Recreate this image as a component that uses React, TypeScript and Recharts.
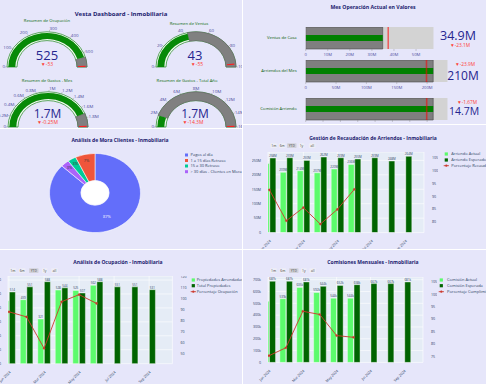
import React from 'react';
import {
  PieChart, Pie, Cell, RadialBarChart, RadialBar, PolarAngleAxis, PolarRadiusAxis,
  BarChart, Bar, XAxis, YAxis, ReferenceLine, ComposedChart, Line, CartesianGrid, LabelList,
} from 'recharts';

// ---------------- DATA ----------------
const gaugeTitles = ['Resumen de Ocupación', 'Resumen de Ventas', 'Resumen de Gastos - Mes', 'Resumen de Gastos - Total Año'];
const gaugeValues = [525, 43, 1720000, 1700000];
const gaugeRefs = [578, 98, 1970000, 16000000];
const gaugeMax = [578, 100, 1970000, 16000000];
const gaugeTicks = [
  [0, 100, 200, 300, 400, 500],
  [0, 20, 40, 60, 80, 100],
  [0, 200000, 400000, 600000, 800000, 1000000, 1200000, 1400000, 1600000, 1800000],
  [0, 2000000, 4000000, 6000000, 8000000, 10000000, 12000000, 14000000, 16000000],
];
const gaugeValueLabels = ['525', '43', '1.7M', '1.7M'];
const gaugeDeltaLabels = ['▼-53', '▼-55', '▼-0.25M', '▼-14.3M'];

const bulletLabels = ['Ventas de Casa', 'Arriendos del Mes', 'Comisión Arriendo'];
const bulletValues = [34.9e6, 210e6, 14.7e6];
const bulletRefs = [58.0e6, 233.9e6, 16.37e6];
const bulletThresholds = [37.4e6, 199e6, 13.95e6];
const bulletTicks = [
  [0, 10e6, 20e6, 30e6, 40e6, 50e6],
  [0, 50e6, 100e6, 150e6, 200e6],
  [0, 2e6, 4e6, 6e6, 8e6, 10e6, 12e6, 14e6],
];
const bulletValueLabels = ['34.9M', '210M', '14.7M'];
const bulletDeltaLabels = ['▼-23.1M', '▼-23.9M', '▼-1.67M'];

const moraLabels = ['Pagos al día', '1 a 15 días Retraso', '15 a 30 Retraso', '> 30 días - Clientes en Mora'];
const moraValues = [87, 7, 3, 3];

const months = ['Jan 2024', 'Feb 2024', 'Mar 2024', 'Apr 2024', 'May 2024', 'Jun 2024', 'Jul 2024', 'Aug 2024', 'Sep 2024'];
const monthTicks = [1, 3, 5, 7, 9];

const recActual = [239, 208.5, 214, 207, 220, 236, 0, 0, 0];
const recExpected = [258, 259, 250, 261.5, 259, 254.6, 259, 247.7, 264];
const recPct = [92.5, 80.5, 85.6, 79.2, 84.9, 92.7, null, null, null];
const recLeftTicks = [0, 50, 100, 150, 200, 250];
const recRightTicks = [80, 85, 90, 95, 100, 105];
const recLegend = ['Arriendo Actual', 'Arriendo Esperado', 'Porcentaje Recaudación'];

const ocuArr = [452, 459, 321, 528, 525, 562, 0, 0, 0];
const ocuTot = [514, 551, 588, 544, 507, 588, 551, 551, 531];
const ocuPct = [87.9, 83.3, 54.6, 97.1, 103.6, 95.6, null, null, null];
const ocuLeftTicks = [0, 100, 200, 300, 400, 500, 600];
const ocuRightTicks = [50, 60, 70, 80, 90, 100, 110, 120];
const ocuLegend = ['Propiedades Arrendadas', 'Total Propiedades', 'Porcentaje Ocupación'];

const comActual = [517, 539, 635, 592, 544, 544, 0, 0, 0];
const comExpected = [687, 687, 681, 644, 652, 658, 667, 667, 681];
const comPct = [75.3, 78.5, 93.2, 91.9, 83.4, 82.7, null, null, null];
const comLeftTicks = [0, 100, 200, 300, 400, 500, 600, 700];
const comRightTicks = [75, 80, 85, 90, 95, 100, 105];
const comLegend = ['Comisión Actual', 'Comisión Esperada', 'Porcentaje Cumplimiento'];

const rangeButtons = ['1m', '6m', 'YTD', '1y', 'all'];

// ---------------- STYLE ----------------
const FONT = '"Open Sans", "Liberation Sans", Arial, sans-serif';
const BG = '#e6e6fa';
const TITLE = '#1b1b6e';
const NUM = '#25258f';
const DELTA = '#ff4136';
const LIGHT = '#5cfb6c';
const DARK = '#006400';
const RED = '#cc3a2e';
const AXT = '#2a3f5f';
const moraColors = ['#636efa', '#ef553b', '#00cc96', '#ab63fa'];

const fmtM = (v: number) => (v === 0 ? '0' : `${+(v / 1e6).toFixed(1)}M`);
const Z = { top: 0, right: 0, bottom: 0, left: 0 };

function Panel({ x, y, w, h, children }: any) {
  return (
    <div style={{ position: 'absolute', left: x, top: y, width: w, height: h, overflow: 'hidden', background: BG }}>
      <div style={{ position: 'absolute', left: -x, top: -y, width: 486, height: 384 }}>{children}</div>
    </div>
  );
}

function Overlay({ children }: any) {
  return (
    <svg width={486} height={384} style={{ position: 'absolute', left: 0, top: 0, fontFamily: FONT }}>
      {children}
    </svg>
  );
}

// ---------------- GAUGE ----------------
const gaugeCenters = [[47, 67], [196, 67], [47.5, 126.5], [196, 126.5]];
function Gauge({ idx }: { idx: number }) {
  const value = gaugeValues[idx];
  const max = gaugeMax[idx];
  const refVal = gaugeRefs[idx];
  const [cx, cy] = gaugeCenters[idx];
  const W = 130, H = 66, ox = 65, oy = 58;
  const thrW = max * 0.012;
  const fmt = idx < 2 ? (v: number) => String(v) : fmtM;
  return (
    <div style={{ position: 'absolute', left: cx - ox, top: cy - oy, width: W, height: H, transform: 'scaleY(0.88)', transformOrigin: `${ox}px ${oy}px` }}>
      <div style={{ position: 'absolute', left: 0, top: 0 }}>
        <PieChart width={W} height={H} margin={Z}>
          <Pie data={[{ v: max }]} dataKey="v" cx={ox} cy={oy} innerRadius={30} outerRadius={40} startAngle={180} endAngle={0}
            fill="#f1f8f1" stroke="#2f8f2f" strokeWidth={0.8} isAnimationActive={false} />
          <Pie data={[{ v: value }, { v: max - value }]} dataKey="v" cx={ox} cy={oy} innerRadius={30} outerRadius={40}
            startAngle={180} endAngle={0} isAnimationActive={false}>
            <Cell fill="none" stroke="none" />
            <Cell fill="#808080" stroke="#555" strokeWidth={0.5} />
          </Pie>
          <Pie data={[{ v: refVal - thrW }, { v: thrW }, { v: max - refVal }]} dataKey="v" cx={ox} cy={oy} innerRadius={31}
            outerRadius={38.5} startAngle={180} endAngle={0} isAnimationActive={false}>
            <Cell fill="none" stroke="none" />
            <Cell fill="#ff2020" stroke="none" />
            <Cell fill="none" stroke="none" />
          </Pie>
        </PieChart>
      </div>
      <div style={{ position: 'absolute', left: 0, top: 0 }}>
        <RadialBarChart width={W} height={H} margin={Z} cx={ox} cy={oy} innerRadius={30} outerRadius={40}
          startAngle={180} endAngle={0} data={[{ v: value }]} barCategoryGap="17%">
          <PolarAngleAxis type="number" domain={[0, max]} ticks={gaugeTicks[idx]} tickFormatter={fmt}
            tick={{ fontSize: 4.5, fill: '#4a4a9c', fontFamily: FONT }} axisLine={false}
            tickLine={{ stroke: '#777', strokeWidth: 0.4 }} tickSize={2} />
          <PolarRadiusAxis type="category" tick={false} axisLine={false} />
          <RadialBar dataKey="v" fill="#078a07" isAnimationActive={false} />
        </RadialBarChart>
      </div>
    </div>
  );
}

// ---------------- BULLET ----------------
const bulletTops = [27, 60, 97.7];
const bulletRights = [433.7, 447.7, 447.7];
function BulletTick(tp: any) {
  return (
    <text x={tp.x} y={tp.y} dy={1.5} textAnchor="end" fontSize={4.2} fill="#0b5e0b" fontFamily={FONT}>
      {tp.payload.value}
    </text>
  );
}
function Bullet({ i }: { i: number }) {
  const left = 243;
  const w = bulletRights[i] - left;
  const data = [{ name: bulletLabels[i], target: bulletRefs[i], val: bulletValues[i] }];
  return (
    <div style={{ position: 'absolute', left, top: bulletTops[i] }}>
      <BarChart layout="vertical" width={w} height={34} data={data} margin={Z} barCategoryGap={0} barGap={0}>
        <XAxis type="number" domain={[0, bulletRefs[i]]} allowDataOverflow ticks={bulletTicks[i]} tickFormatter={fmtM}
          height={12} axisLine={false} tickLine={{ stroke: '#888', strokeWidth: 0.4 }} tickSize={2} interval={0}
          tick={{ fontSize: 4.2, fill: '#4f4fa0', fontFamily: FONT }} />
        <YAxis yAxisId="a" type="category" dataKey="name" width={62.7} axisLine={false} tickLine={false} tickMargin={3}
          tick={BulletTick} />
        <YAxis yAxisId="b" type="category" dataKey="name" hide />
        <YAxis yAxisId="c" type="category" dataKey="name" hide />
        <Bar yAxisId="a" dataKey="target" fill="#d3d3d3" isAnimationActive={false} />
        <Bar yAxisId="b" dataKey="val" fill="#7f7f7f" stroke="#4a4a4a" strokeWidth={0.6} isAnimationActive={false} />
        <Bar yAxisId="c" dataKey="val" fill="#008000" barSize={6} isAnimationActive={false} />
        <ReferenceLine yAxisId="a" x={bulletThresholds[i]} stroke="#ff0000" strokeOpacity={0.55} strokeWidth={1.6} />
      </BarChart>
    </div>
  );
}

// ---------------- DONUT ----------------
const pieOrder = [0, 3, 2, 1];
const DONUT = { cx: 95, cy: 192.7, inner: 14, outer: 45.5, sy: 0.87 };
function Donut() {
  const data = pieOrder.map((k) => ({ name: moraLabels[k], value: moraValues[k] }));
  const colors = pieOrder.map((k) => moraColors[k]);
  const RAD = Math.PI / 180;
  const label = (p: any) => {
    const f = p.percent > 0.5 ? 0.5 : 0.78;
    const r = DONUT.inner + (DONUT.outer - DONUT.inner) * f;
    const x = p.cx + r * Math.cos(-p.midAngle * RAD);
    const y = p.cy + r * Math.sin(-p.midAngle * RAD);
    return (
      <text x={x} y={y} textAnchor="middle" dominantBaseline="central" fontSize={4} fontFamily={FONT}
        fill={p.percent > 0.5 ? '#ffffff' : '#3a3a3a'}>{`${Math.round(p.percent * 100)}%`}</text>
    );
  };
  return (
    <div style={{ position: 'absolute', left: DONUT.cx - 50, top: DONUT.cy - 50, width: 100, height: 100, transform: `scaleY(${DONUT.sy})`, transformOrigin: '50px 50px' }}>
      <PieChart width={100} height={100} margin={Z}>
        <Pie data={data} dataKey="value" nameKey="name" cx={50} cy={50} innerRadius={DONUT.inner} outerRadius={DONUT.outer}
          startAngle={90} endAngle={-270} stroke="#ffffff" strokeWidth={0.6} label={label} labelLine={false}
          isAnimationActive={false}>
          {data.map((d, k) => <Cell key={d.name} fill={colors[k]} />)}
        </Pie>
      </PieChart>
    </div>
  );
}

// ---------------- COMBO ----------------
function Combo(p: any) {
  const data = months.map((m, i) => ({ i: i + 1, a: p.actual[i], e: p.expected[i], pc: p.pct[i] }));
  const W = p.lw + p.plotW + p.rw;
  const H = p.plotH + 22;
  const mk = (skipFirst: boolean) => (lp: any) => {
    const vb = lp.viewBox || lp;
    if (skipFirst && lp.index === 0) return null;
    if (vb == null || vb.x == null) return null;
    return (
      <text x={vb.x + vb.width / 2} y={vb.y - 1} textAnchor="middle" fontSize={3} fontFamily={FONT} fill={AXT}>
        {p.labelFmt(lp.value)}
      </text>
    );
  };
  const tick = { fontSize: 3.6, fill: AXT, fontFamily: FONT };
  return (
    <div style={{ position: 'absolute', left: p.left, top: p.top }}>
      <ComposedChart width={W} height={H} data={data} margin={Z} barCategoryGap="14%" barGap={0.6}>
        <CartesianGrid yAxisId="l" fill="#e5ecf6" stroke="#ffffff" strokeWidth={0.6} />
        <XAxis dataKey="i" type="number" domain={p.xDomain} allowDataOverflow ticks={monthTicks} interval={0}
          tickFormatter={(v: number) => months[v - 1]} angle={-45} textAnchor="end" tick={tick}
          tickLine={false} axisLine={false} height={22} tickMargin={1} />
        <YAxis yAxisId="l" domain={p.lDomain} allowDataOverflow ticks={p.lTicks} tickFormatter={p.lFmt} width={p.lw}
          tick={tick} tickLine={false} axisLine={false} tickMargin={1} interval={0} />
        <YAxis yAxisId="r" orientation="right" domain={p.rDomain} allowDataOverflow ticks={p.rTicks} width={p.rw}
          tick={tick} tickLine={false} axisLine={false} tickMargin={2} interval={0} />
        <Bar yAxisId="l" dataKey="a" fill={LIGHT} stroke="#ffffff" strokeWidth={0.4} isAnimationActive={false}>
          <LabelList dataKey="a" content={mk(true)} />
        </Bar>
        <Bar yAxisId="l" dataKey="e" fill={DARK} stroke="#ffffff" strokeWidth={0.4} isAnimationActive={false}>
          <LabelList dataKey="e" content={mk(false)} />
        </Bar>
        <Line yAxisId="r" dataKey="pc" stroke={RED} strokeWidth={0.9} dot={{ r: 1.1, fill: RED, stroke: RED, strokeWidth: 0.3 }}
          isAnimationActive={false} />
      </ComposedChart>
    </div>
  );
}

function RangeSel({ centers, y }: { centers: number[]; y: number }) {
  const widths = [6.5, 6.5, 9.5, 5.5, 6.5];
  return (
    <g>
      {rangeButtons.map((b, k) => (
        <g key={b}>
          <rect x={centers[k] - widths[k] / 2} y={y} width={widths[k]} height={4.6} rx={0.6}
            fill={b === 'YTD' ? '#d2d2da' : '#eeeef6'} />
          <text x={centers[k]} y={y + 3.3} textAnchor="middle" fontSize={3.4} fill="#444">{b}</text>
        </g>
      ))}
    </g>
  );
}

function ComboLegend({ names, mx, tx, rows }: { names: string[]; mx: number; tx: number; rows: number[] }) {
  return (
    <g fontSize={4} fill={AXT}>
      <rect x={mx} y={rows[0] - 1.6} width={3.2} height={3.2} fill={LIGHT} />
      <rect x={mx} y={rows[1] - 1.6} width={3.2} height={3.2} fill={DARK} />
      <line x1={mx - 1} x2={mx + 4.2} y1={rows[2]} y2={rows[2]} stroke={RED} strokeWidth={0.9} />
      <circle cx={mx + 1.6} cy={rows[2]} r={1.1} fill={RED} />
      {names.map((n, k) => (
        <text key={n} x={tx} y={rows[k] + 1.4}>{n}</text>
      ))}
    </g>
  );
}

export default function App() {
  const gaugeTitlePos = [[47, 22], [189, 24.7], [47, 81.5], [187, 81.5]];
  const gaugeNumPos = [[47, 59.5, 13], [195, 59.5, 13], [47.5, 117.5, 12], [195, 117.5, 12]];
  const gaugeDeltaPos = [[47, 66], [197, 66], [47.5, 124.3], [193, 124.3]];
  const bulletNumPos = [[458, 39.5, 12.5], [463, 80, 12], [464, 115, 10.5]];
  const bulletDeltaPos = [[460, 46.5], [465, 65.5], [467, 103.5]];
  const pieRows = [155, 160.5, 166, 171.7];
  return (
    <div style={{ position: 'fixed', left: 0, top: 0, width: 486, height: 384, background: '#ffffff', overflow: 'hidden', fontFamily: FONT }}>
      <Panel x={0} y={0} w={242} h={128}>
        {gaugeValues.map((_, k) => <Gauge key={k} idx={k} />)}
        <Overlay>
          <text x={121} y={15.5} textAnchor="middle" fontSize={6} fontWeight={700} fill={TITLE}>Vesta Dashboard - Inmobiliaria</text>
          {gaugeTitles.map((t, k) => (
            <text key={t} x={gaugeTitlePos[k][0]} y={gaugeTitlePos[k][1]} textAnchor="middle" fontSize={4.2} fill="#0d6b0d">{t}</text>
          ))}
          {gaugeValueLabels.map((t, k) => (
            <text key={k} x={gaugeNumPos[k][0]} y={gaugeNumPos[k][1]} textAnchor="middle" fontSize={gaugeNumPos[k][2]} fill={NUM}>{t}</text>
          ))}
          {gaugeDeltaLabels.map((t, k) => (
            <text key={k} x={gaugeDeltaPos[k][0]} y={gaugeDeltaPos[k][1]} textAnchor="middle" fontSize={5} fill={DELTA}>{t}</text>
          ))}
        </Overlay>
      </Panel>

      <Panel x={243} y={0} w={243} h={124}>
        {bulletLabels.map((_, k) => <Bullet key={k} i={k} />)}
        <Overlay>
          <text x={373} y={9} textAnchor="middle" fontSize={5.2} fontWeight={700} fill={TITLE}>Mes Operación Actual en Valores</text>
          {bulletValueLabels.map((t, k) => (
            <text key={k} x={bulletNumPos[k][0]} y={bulletNumPos[k][1]} textAnchor="middle" fontSize={bulletNumPos[k][2]} fill={NUM}>{t}</text>
          ))}
          {bulletDeltaLabels.map((t, k) => (
            <text key={k} x={bulletDeltaPos[k][0]} y={bulletDeltaPos[k][1]} textAnchor="middle" fontSize={4.8} fill={DELTA}>{t}</text>
          ))}
        </Overlay>
      </Panel>

      <Panel x={0} y={129} w={242} h={120}>
        <Donut />
        <Overlay>
          <ellipse cx={DONUT.cx} cy={DONUT.cy} rx={DONUT.inner} ry={DONUT.inner * DONUT.sy} fill="#ffffff" stroke="#f4f4fb" strokeWidth={0.5} />
          <text x={120} y={142} textAnchor="middle" fontSize={5} fontWeight={700} fill={TITLE}>Análisis de Mora Clientes - Inmobiliaria</text>
          {moraLabels.map((n, k) => (
            <g key={n}>
              <rect x={185} y={pieRows[k] - 1.5} width={3} height={3} fill={moraColors[k]} />
              <text x={190.5} y={pieRows[k] + 1.4} fontSize={4} fill={AXT}>{n}</text>
            </g>
          ))}
        </Overlay>
      </Panel>

      <Panel x={243} y={125} w={243} h={124}>
        <Combo left={252} top={151.7} lw={16} rw={14} plotW={156} plotH={80.6} xDomain={[0.92, 10.1]}
          lDomain={[0, 279]} lTicks={recLeftTicks} lFmt={(v: number) => (v === 0 ? '0' : `${v}M`)}
          rDomain={[75.9, 107.2]} rTicks={recRightTicks}
          actual={recActual} expected={recExpected} pct={recPct}
          labelFmt={(v: number) => (v === 0 ? '0.0' : `${Math.round(v)}M`)} />
        <Overlay>
          <text x={373} y={139.5} textAnchor="middle" fontSize={5} fontWeight={700} fill={TITLE}>Gestión de Recaudación de Arriendos - Inmobiliaria</text>
          <RangeSel centers={[273.8, 282.2, 291.8, 301.5, 312.2]} y={143.3} />
          <ComboLegend names={recLegend} mx={444.7} tx={451.3} rows={[154, 160, 165.7]} />
        </Overlay>
      </Panel>

      <Panel x={0} y={250} w={242} h={134}>
        <Combo left={0.3} top={276} lw={8} rw={14} plotW={164.4} plotH={87.7} xDomain={[0.94, 10.33]}
          lDomain={[0, 629]} lTicks={ocuLeftTicks} lFmt={(v: number) => String(v)}
          rDomain={[40.6, 120.6]} rTicks={ocuRightTicks}
          actual={ocuArr} expected={ocuTot} pct={ocuPct}
          labelFmt={(v: number) => String(v)} />
        <Overlay>
          <text x={118} y={263.5} textAnchor="middle" fontSize={5} fontWeight={700} fill={TITLE}>Análisis de Ocupación - Inmobiliaria</text>
          <RangeSel centers={[12.8, 22.2, 33.8, 44.7, 54.5]} y={268.3} />
          <ComboLegend names={ocuLegend} mx={191.7} tx={196.7} rows={[280, 285.7, 291.7]} />
        </Overlay>
      </Panel>

      <Panel x={243} y={250} w={243} h={134}>
        <Combo left={252} top={277.3} lw={16} rw={14} plotW={155} plotH={85.4} xDomain={[0.94, 10.11]}
          lDomain={[0, 723]} lTicks={comLeftTicks} lFmt={(v: number) => (v === 0 ? '0' : `${v}k`)}
          rDomain={[72.6, 107]} rTicks={comRightTicks}
          actual={comActual} expected={comExpected} pct={comPct}
          labelFmt={(v: number) => (v === 0 ? '0.0' : `${Math.round(v)}k`)} />
        <Overlay>
          <text x={373} y={263.5} textAnchor="middle" fontSize={5} fontWeight={700} fill={TITLE}>Comisiones Mensuales - Inmobiliaria</text>
          <RangeSel centers={[273.5, 282.8, 293.8, 303.8, 312.7]} y={268.3} />
          <ComboLegend names={comLegend} mx={439.7} tx={447} rows={[280, 285.7, 291.7]} />
        </Overlay>
      </Panel>
    </div>
  );
}
